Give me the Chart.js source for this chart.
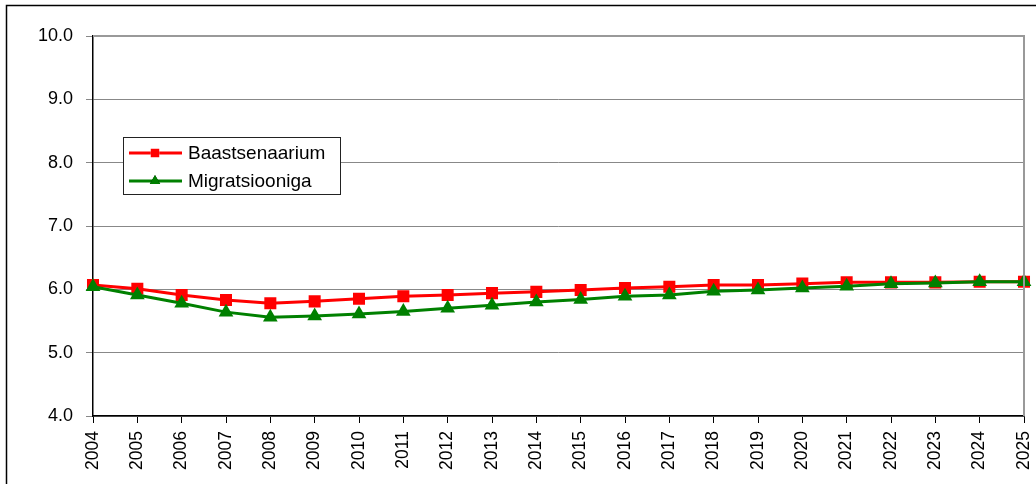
<!DOCTYPE html>
<html>
<head>
<meta charset="utf-8">
<script src="https://cdn.jsdelivr.net/npm/chart.js@4.4.1/dist/chart.umd.min.js"></script>
<style>
  html, body { margin: 0; padding: 0; background: #fff; }
  #wrap { width: 1036px; height: 484px; }
</style>
</head>
<body>
<div id="wrap"><canvas id="myChart"></canvas></div>
<script>
const years = ['2004', '2005', '2006', '2007', '2008', '2009', '2010', '2011', '2012', '2013', '2014',
    '2015', '2016', '2017', '2018', '2019', '2020', '2021', '2022', '2023', '2024', '2025'];

const baastsenaarium = [6.07, 6.01, 5.91, 5.83, 5.78, 5.81, 5.85, 5.89, 5.91, 5.94, 5.96,
    5.99, 6.02, 6.04, 6.07, 6.07, 6.09, 6.11, 6.11, 6.11, 6.12, 6.12];

const migratsiooniga = [6.04, 5.91, 5.78, 5.64, 5.56, 5.58, 5.61, 5.65, 5.70, 5.75, 5.80,
    5.84, 5.89, 5.91, 5.97, 5.99, 6.02, 6.05, 6.09, 6.10, 6.12, 6.12];

const FONT = 'Arial, "Liberation Sans", sans-serif';

// outer frame, gray top/right edge of the plot, and the boxed legend inside the plot
const framePlugin = {
    id: 'frame',
    afterDraw(chart) {
        const c = chart.ctx;
        const a = chart.chartArea;
        c.save();
        // outer border (right and bottom fall outside the picture)
        c.strokeStyle = '#000';
        c.lineWidth = 1.5;
        c.beginPath();
        c.moveTo(6.5, 490);
        c.lineTo(6.5, 5.5);
        c.lineTo(1040, 5.5);
        c.stroke();

        // top and right edge of the plot area
        c.strokeStyle = '#999';
        c.lineWidth = 2;
        c.beginPath();
        c.moveTo(a.left, a.top);
        c.lineTo(a.right, a.top);
        c.lineTo(a.right, a.bottom);
        c.stroke();

        // legend
        const bx = a.left + 30, by = a.top + 101, bw = 217, bh = 57;
        c.fillStyle = '#fff';
        c.fillRect(bx, by, bw, bh);
        c.strokeStyle = '#222';
        c.lineWidth = 1;
        c.strokeRect(bx + 0.5, by + 0.5, bw, bh);
        c.font = '19px ' + FONT;
        c.textBaseline = 'middle';
        chart.data.datasets.forEach((ds, i) => {
            const y = by + 16 + i * 28;
            c.strokeStyle = ds.borderColor;
            c.lineWidth = 3;
            c.beginPath();
            c.moveTo(bx + 6, y);
            c.lineTo(bx + 59, y);
            c.stroke();
            Chart.helpers.drawPoint(c, {pointStyle: ds.pointStyle, radius: 6, rotation: 0, borderWidth: 0},
                bx + 32, y);
            c.fillStyle = ds.backgroundColor;
            c.fill();
            c.fillStyle = '#000';
            c.fillText(ds.label, bx + 65, y + 1);
        });
        c.restore();
    }
};

new Chart(document.getElementById('myChart'), {
    type: 'line',
    data: {
        labels: years,
        datasets: [{
            label: 'Baastsenaarium',
            data: baastsenaarium,
            borderColor: '#ff0000',
            backgroundColor: '#ff0000',
            borderWidth: 3,
            pointStyle: 'rect',
            pointRadius: 8.5,
            pointBorderWidth: 0,
            tension: 0,
            order: 1
        }, {
            label: 'Migratsiooniga',
            data: migratsiooniga,
            borderColor: '#008000',
            backgroundColor: '#008000',
            borderWidth: 3,
            pointStyle: 'triangle',
            pointRadius: 8.5,
            pointBorderWidth: 0,
            tension: 0,
            order: 0
        }]
    },
    options: {
        responsive: true,
        maintainAspectRatio: false,
        animation: false,
        layout: { padding: { left: 0, top: 36, right: 12, bottom: 0 } },
        plugins: {
            legend: { display: false },
            tooltip: { enabled: false }
        },
        scales: {
            x: {
                offset: false,
                afterFit(scale) {
                    scale.height = 68;
                    scale.paddingLeft = 0;
                    scale.paddingRight = 0;
                },
                grid: { drawOnChartArea: false, drawTicks: true, tickLength: 7, color: '#000' },
                border: { color: '#000', width: 1.5 },
                ticks: {
                    autoSkip: false,
                    minRotation: 90,
                    maxRotation: 90,
                    padding: 8,
                    color: '#000',
                    font: { family: FONT, size: 17.5 }
                }
            },
            y: {
                min: 4,
                max: 10,
                afterFit(scale) { scale.width = 93; },
                grid: { color: '#888', lineWidth: 1, tickLength: 7 },
                border: { color: '#000', width: 1.5 },
                ticks: {
                    stepSize: 1,
                    padding: 13,
                    color: '#000',
                    font: { family: FONT, size: 18 },
                    callback: v => v.toFixed(1)
                }
            }
        }
    },
    plugins: [framePlugin]
});
</script>
</body>
</html>
